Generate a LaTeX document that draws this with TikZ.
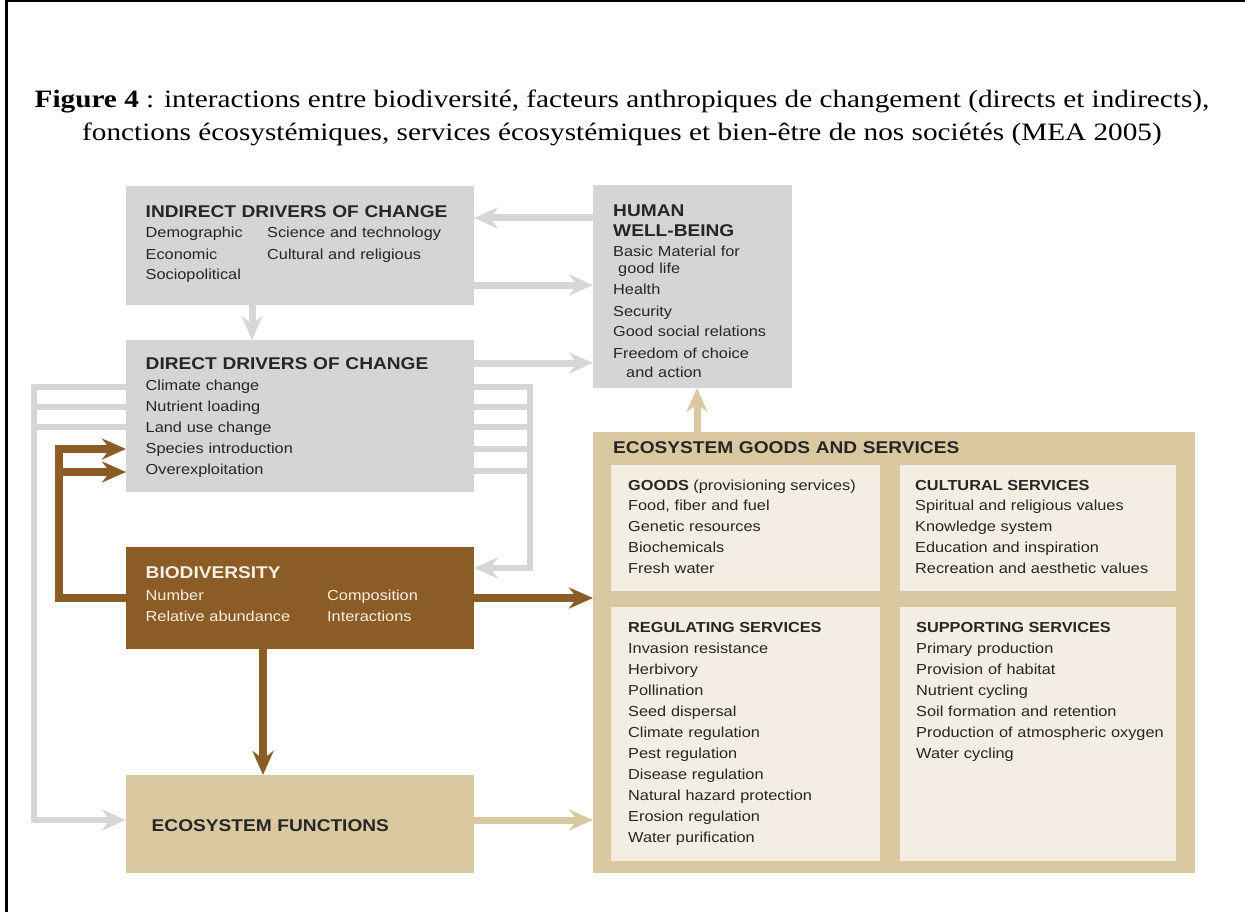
\documentclass[tikz,border=0pt]{standalone}
\usepackage{fontspec}
\setmainfont[FakeStretch=1.17]{Liberation Serif}
\newfontfamily\diagfont[FakeStretch=1.125]{Liberation Sans}
\usetikzlibrary{positioning,arrows.meta}
\definecolor{boxgrey}{RGB}{213,213,213}
\definecolor{linegrey}{RGB}{214,214,214}
\definecolor{biobrown}{RGB}{140,92,38}
\definecolor{esstan}{RGB}{218,200,161}
\definecolor{esscream}{RGB}{243,237,227}
\definecolor{inkgrey}{RGB}{38,38,38}
\definecolor{biotext}{RGB}{246,240,228}
\begin{document}
\begin{tikzpicture}[x=1pt,y=-1pt,
  blk/.style={rectangle,inner sep=0pt,outer sep=0pt},
  gbox/.style={blk,fill=boxgrey},
  bbox/.style={blk,fill=biobrown},
  tbox/.style={blk,fill=esstan},
  cbox/.style={blk,fill=esscream},
  ttl/.style={anchor=base west,inner sep=0pt,text=inkgrey,align=left,text width=420pt,font=\diagfont\bfseries\fontsize{17}{20}\selectfont},
  subttl/.style={anchor=base west,inner sep=0pt,text=inkgrey,font=\diagfont\bfseries\fontsize{14.5}{21}\selectfont},
  itm/.style={anchor=base west,inner sep=0pt,text=inkgrey,align=left,text width=#1,font=\diagfont\fontsize{14.5}{21}\selectfont},
  itm/.default=240pt,
  captxt/.style={anchor=base,inner sep=0pt,font=\fontsize{25}{33}\selectfont},
  gline/.style={draw=linegrey,line width=6pt},
  garrow/.style={draw=linegrey,line width=7pt,-{Stealth[length=24pt,width=21pt,inset=8pt]}},
  barrow/.style={draw=biobrown,line width=7.5pt,-{Stealth[length=24pt,width=21pt,inset=8pt]}},
  tarrow/.style={draw=esstan,line width=7pt,-{Stealth[length=24pt,width=21pt,inset=8pt]}}]
\useasboundingbox (0,0) rectangle (1245,912);
\fill[white] (0,0) rectangle (1245,912);
\draw[line width=2.5pt] (6.5,912) -- (6.5,1.25) -- (1245,1.25);

\node[captxt] (cap1) at (622,108) {\textbf{Figure 4} : interactions entre biodiversité, facteurs anthropiques de changement (directs et indirects),};
\node[captxt] (cap2) at (622,141) {fonctions écosystémiques, services écosystémiques et bien-être de nos sociétés (MEA 2005)};

\node[gbox,minimum width=348pt,minimum height=119pt] (ind) at (300,245.5) {};
\node[gbox,minimum width=348pt,minimum height=152pt] (dir) at (300,416) {};
\node[bbox,minimum width=348pt,minimum height=102pt] (bio) at (300,598) {};
\node[tbox,minimum width=348pt,minimum height=98pt] (efn) at (300,824) {};
\node[gbox,minimum width=199pt,minimum height=203pt] (hwb) at (692.5,286.5) {};
\node[tbox,minimum width=602pt,minimum height=441pt] (egs) at (894,652.5) {};
\node[cbox,minimum width=269pt,minimum height=126pt] (goods) at (745.5,528) {};
\node[cbox,minimum width=276pt,minimum height=126pt] (cult) at (1038,528) {};
\node[cbox,minimum width=269pt,minimum height=254pt] (regu) at (745.5,734) {};
\node[cbox,minimum width=276pt,minimum height=254pt] (supp) at (1038,734) {};

\draw[garrow] ([yshift=-33pt]hwb.north west) -- ([yshift=-33pt]hwb.north west -| ind.east);
\draw[garrow] ([yshift=20pt]ind.south east) -- ([yshift=20pt]ind.south east -| hwb.west);
\draw[garrow] ([xshift=-48pt]ind.south) -- ([xshift=-48pt]dir.north);
\draw[garrow] ([yshift=-23pt]dir.north east) -- ([yshift=-23pt]dir.north east -| hwb.west);

\draw[garrow,line width=6pt] ([yshift=-47pt]dir.north west) -- ++(-92pt,0) |- ([yshift=4pt]efn.west);
\draw[gline] ([yshift=-67pt]dir.north west) -- ++(-92pt,0);
\draw[gline] ([yshift=-87pt]dir.north west) -- ++(-92pt,0);
\draw[garrow,line width=6pt] ([yshift=-47pt]dir.north east) -- ++(56pt,0) |- ([yshift=-21pt]bio.north east);
\draw[gline] ([yshift=-67pt]dir.north east) -- ++(56pt,0);
\draw[gline] ([yshift=-87pt]dir.north east) -- ++(56pt,0);
\draw[gline] ([yshift=-109pt]dir.north east) -- ++(56pt,0);
\draw[gline] ([yshift=-131pt]dir.north east) -- ++(56pt,0);

\draw[barrow] (bio.west) -- ++(-67pt,0) |- ([yshift=-109pt]dir.north west);
\draw[barrow] ([xshift=-67pt,yshift=-132pt]dir.north west) -- ([yshift=-132pt]dir.north west);
\draw[barrow] (bio.east) -- (bio.east -| egs.west);
\draw[barrow] ([xshift=-37pt]bio.south) -- ([xshift=-37pt]bio.south |- efn.north);

\draw[tarrow] ([yshift=4pt]efn.east) -- ([yshift=4pt]efn.east -| egs.west);
\draw[tarrow] ([xshift=104pt]egs.north west) -- ([xshift=104pt]egs.north west |- hwb.south);

\node[ttl] (indttl) at (145.5,218) {INDIRECT DRIVERS OF CHANGE};
\node[itm=110pt] (indl) at (145.5,238) {Demographic\\Economic\\Sociopolitical};
\node[itm=190pt] (indr) at (267,238) {Science and technology\\Cultural and religious};

\node[ttl] (dirttl) at (145.5,369) {DIRECT DRIVERS OF CHANGE};
\node[itm] (dirl) at (145.5,390) {Climate change\\Nutrient loading\\Land use change\\Species introduction\\Overexploitation};

\node[ttl,text=biotext] (biottl) at (145.5,578) {BIODIVERSITY};
\node[itm=170pt,text=biotext] (biol) at (145.5,600) {Number\\Relative abundance};
\node[itm=140pt,text=biotext] (bior) at (327,600) {Composition\\Interactions};

\node[ttl] (efnttl) at (151.5,831) {ECOSYSTEM FUNCTIONS};

\node[ttl,text width=170pt] (hwbttl) at (613,217) {HUMAN\\WELL-BEING};
\node[itm=175pt] (hwbl) at (613,257) {Basic Material for\\[-4pt]\hspace*{5pt}good life\\Health\\Security\\Good social relations\\Freedom of choice\\[-2pt]\hspace*{13pt}and action};

\node[ttl] (egsttl) at (613,453) {ECOSYSTEM GOODS AND SERVICES};

\node[subttl] (goodsttl) at (628,490) {GOODS \mdseries(provisioning services)};
\node[itm] (goodsl) at (628,510) {Food, fiber and fuel\\Genetic resources\\Biochemicals\\Fresh water};

\node[subttl] (cultttl) at (915,490) {CULTURAL SERVICES};
\node[itm=255pt] (cultl) at (915,510) {Spiritual and religious values\\Knowledge system\\Education and inspiration\\Recreation and aesthetic values};

\node[subttl] (reguttl) at (628,632) {REGULATING SERVICES};
\node[itm] (regul) at (628,653) {Invasion resistance\\Herbivory\\Pollination\\Seed dispersal\\Climate regulation\\Pest regulation\\Disease regulation\\Natural hazard protection\\Erosion regulation\\Water purification};

\node[subttl] (suppttl) at (916,632) {SUPPORTING SERVICES};
\node[itm=255pt] (suppl) at (916,653) {Primary production\\Provision of habitat\\Nutrient cycling\\Soil formation and retention\\Production of atmospheric oxygen\\Water cycling};
\end{tikzpicture}
\end{document}
